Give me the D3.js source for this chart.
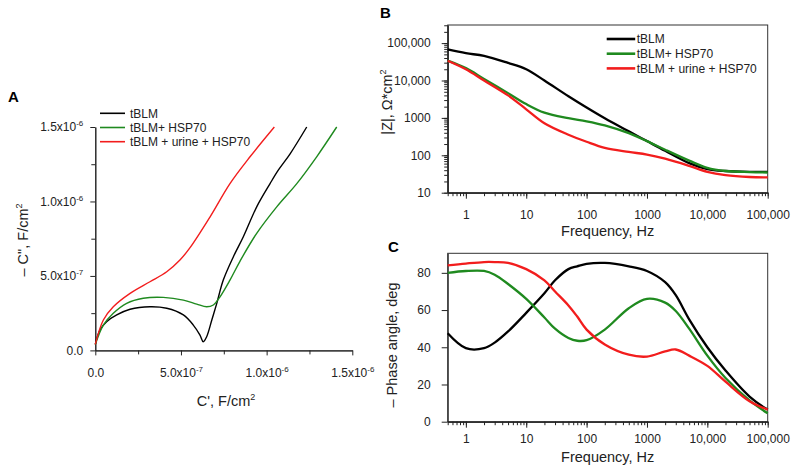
<!DOCTYPE html>
<html>
<head>
<meta charset="utf-8">
<script src="https://cdn.jsdelivr.net/npm/d3@7"></script>
<style>
body { margin: 0; background: #fff; }
svg { font-family: "Liberation Sans", Arial, sans-serif; }
.axis path, .axis line { stroke: #222; }
.axis text { font-size: 12px; fill: #222; font-family: "Liberation Sans", Arial, sans-serif; }
</style>
</head>
<body>
<script>
// series names and colours (shared by all panels)
var seriesNames = ["tBLM", "tBLM+ HSP70", "tBLM + urine + HSP70"];
var seriesColors = ["#000000", "#1f8a1f", "#f21d1d"];

// Panel A: complex capacitance plot, C' and -C'' in F/cm2
var capRe_tBLM = [0.0, 0.27e-7, 0.66e-7, 1.25e-7, 2.03e-7, 3.19e-7, 4.17e-7, 5.14e-7, 5.72e-7, 6.11e-7, 6.30e-7, 6.50e-7, 6.80e-7, 7.09e-7, 7.47e-7, 8.06e-7, 8.64e-7, 9.42e-7, 10.2e-7, 10.68e-7, 11.37e-7, 12.34e-7];
var capIm_tBLM = [0.40e-7, 1.37e-7, 1.93e-7, 2.38e-7, 2.76e-7, 2.93e-7, 2.83e-7, 2.38e-7, 1.70e-7, 1.03e-7, 0.58e-7, 0.92e-7, 2.04e-7, 3.16e-7, 4.72e-7, 6.29e-7, 7.63e-7, 9.64e-7, 11.2e-7, 12.1e-7, 13.2e-7, 15.0e-7];
var capRe_hsp = [0.0, 0.47e-7, 1.05e-7, 1.83e-7, 2.80e-7, 3.97e-7, 5.14e-7, 5.92e-7, 6.50e-7, 6.89e-7, 7.28e-7, 7.86e-7, 8.45e-7, 9.42e-7, 10.59e-7, 11.76e-7, 12.92e-7, 14.09e-7];
var capIm_hsp = [0.40e-7, 1.70e-7, 2.49e-7, 3.16e-7, 3.50e-7, 3.56e-7, 3.38e-7, 3.11e-7, 2.93e-7, 3.05e-7, 3.60e-7, 4.72e-7, 6.0e-7, 7.86e-7, 9.64e-7, 11.2e-7, 13.0e-7, 15.0e-7];
var capRe_urine = [0.0, 0.47e-7, 1.05e-7, 2.03e-7, 3.19e-7, 4.17e-7, 4.94e-7, 5.53e-7, 6.70e-7, 7.86e-7, 9.03e-7, 10.45e-7];
var capIm_urine = [0.40e-7, 2.04e-7, 2.93e-7, 3.83e-7, 4.61e-7, 5.28e-7, 6.07e-7, 6.9e-7, 8.97e-7, 11.2e-7, 13.0e-7, 15.0e-7];
var capTicks = [0, 5e-7, 1e-6, 1.5e-6];
var capMinorTicks = [2.5e-7, 7.5e-7, 1.25e-6];

// Panel B: impedance modulus |Z|, ohm*cm2
var freqB = [0.5, 1, 2, 5, 10, 20, 50, 100, 200, 500, 1000, 2000, 5000, 10000, 20000, 50000, 100000];
var zMod_tBLM = [67600, 53700, 45700, 29500, 20000, 10000, 3800, 1900, 980, 437, 240, 132, 62, 43, 38, 36, 36];
var zMod_hsp = [33900, 21400, 11000, 4600, 2340, 1380, 980, 810, 630, 390, 240, 141, 72, 46, 38, 35.5, 34.7];
var zMod_urine = [33900, 20000, 10000, 4000, 1700, 720, 355, 230, 158, 123, 105, 81, 52, 36, 29.5, 26.3, 25.7];
var zTicks = [10, 100, 1000, 10000, 100000];

// Panel C: -phase angle, deg
var freqC = [0.5, 1, 2, 3, 5, 10, 20, 30, 50, 70, 100, 200, 500, 1000, 2000, 3000, 5000, 10000, 20000, 50000, 100000];
var phase_tBLM = [47.5, 39.5, 39.5, 42.5, 48.5, 58.5, 69, 76, 82, 83.5, 84.8, 85.3, 83.5, 81, 75, 68, 55, 40, 27.5, 13.5, 6.5];
var phase_hsp = [80, 81, 81, 79, 74, 66, 56, 50, 45, 43.5, 43.8, 49.5, 61, 66, 64, 59.5, 50, 35.5, 23.5, 11.5, 4.5];
var phase_urine = [84, 85, 85.8, 85.8, 85.4, 82, 76, 70, 62.5, 56.5, 49.5, 41.5, 36, 35, 37.8, 38.8, 35.5, 30, 21.5, 11, 6.5];
var phaseTicks = [0, 20, 40, 60, 80];
var freqTicks = [1, 10, 100, 1000, 10000, 100000];

var W = 796, H = 472;

var svg = d3.select("body").append("svg")
    .attr("width", W)
    .attr("height", H);

// labels like 1.5x10^-6 with a real superscript
function sciLabel(sel) {
    sel.each(function (d) {
        var t = d3.select(this);
        t.text(null);
        if (d === 0) { t.text("0.0"); return; }
        var e = Math.floor(Math.log10(d) + 1e-9);
        var m = d / Math.pow(10, e);
        t.append("tspan").text(m.toFixed(1) + "x10");
        t.append("tspan").attr("dy", -5).attr("font-size", 8).text(String(e));
    });
}

function freqFormat(v) {
    return v >= 10000 ? d3.format(",")(v) : String(v);
}

// log minor tick values inside a domain
function logMinors(lo, hi) {
    var out = [];
    for (var p = -1; p <= 5; p++) {
        for (var k = 1; k <= 9; k++) {
            var v = k * Math.pow(10, p);
            if (v >= lo && v <= hi) out.push(v);
        }
    }
    return out;
}

// ---------- Panel A ----------
var xA = d3.scaleLinear().domain([0, 1.5e-6]).range([95.3, 352.3]);
var yA = d3.scaleLinear().domain([0, 1.5e-6]).range([350.4, 127]);

var gA = svg.append("g");

gA.append("g").attr("class", "axis")
    .attr("transform", "translate(0," + yA(0) + ")")
    .call(d3.axisBottom(xA).tickValues(capMinorTicks).tickSize(4).tickFormat("").tickSizeOuter(0));
gA.append("g").attr("class", "axis")
    .attr("transform", "translate(0," + yA(0) + ")")
    .call(d3.axisBottom(xA).tickValues(capTicks).tickSize(5).tickPadding(13).tickSizeOuter(0))
    .selectAll("text").call(sciLabel);

gA.append("g").attr("class", "axis")
    .attr("transform", "translate(" + xA(0) + ",0)")
    .call(d3.axisLeft(yA).tickValues(capMinorTicks).tickSize(4).tickFormat("").tickSizeOuter(0));
gA.append("g").attr("class", "axis")
    .attr("transform", "translate(" + xA(0) + ",0)")
    .call(d3.axisLeft(yA).tickValues(capTicks).tickSize(5).tickPadding(7).tickSizeOuter(0))
    .selectAll("text").call(sciLabel);

var lineA = d3.line()
    .x(function (d) { return xA(d[0]); })
    .y(function (d) { return yA(d[1]); })
    .curve(d3.curveCatmullRom.alpha(0.5));

var dataA = [
    d3.zip(capRe_tBLM, capIm_tBLM),
    d3.zip(capRe_hsp, capIm_hsp),
    d3.zip(capRe_urine, capIm_urine)
];

gA.selectAll(".curveA")
    .data(dataA)
    .enter()
    .append("path")
    .attr("class", "curveA")
    .attr("d", lineA)
    .attr("fill", "none")
    .attr("stroke", function (d, i) { return seriesColors[i]; })
    .attr("stroke-width", 1.4);

// legend A
var legA = gA.selectAll(".legA")
    .data(seriesNames)
    .enter()
    .append("g")
    .attr("class", "legA")
    .attr("transform", function (d, i) { return "translate(100," + (113.3 + i * 14.2) + ")"; });
legA.append("line")
    .attr("x1", 0).attr("x2", 25)
    .attr("stroke", function (d, i) { return seriesColors[i]; })
    .attr("stroke-width", 1.6);
legA.append("text")
    .attr("x", 30).attr("dy", "0.35em")
    .attr("font-size", 12).attr("fill", "#222")
    .text(function (d) { return d; });

// axis titles A
var ylabA = gA.append("text")
    .attr("transform", "translate(28,240) rotate(-90)")
    .attr("text-anchor", "middle")
    .attr("font-size", 14.5).attr("fill", "#222");
ylabA.append("tspan").text("\u2013 C\", F/cm");
ylabA.append("tspan").attr("dy", -6).attr("font-size", 9).text("2");

var xlabA = gA.append("text")
    .attr("x", 226).attr("y", 406)
    .attr("text-anchor", "middle")
    .attr("font-size", 14.5).attr("fill", "#222");
xlabA.append("tspan").text("C', F/cm");
xlabA.append("tspan").attr("dy", -6).attr("font-size", 9).text("2");

svg.append("text").attr("x", 8).attr("y", 102)
    .attr("font-size", 15).attr("font-weight", "bold").text("A");

// ---------- Panel B ----------
var xF = d3.scaleLog().domain([0.5, 100000]);
var xB = xF.copy().range([447.7, 767.7]);
var yB = d3.scaleLog().domain([10, 305000]).range([192.7, 25]);

var gB = svg.append("g");

gB.append("rect")
    .attr("x", xB.range()[0]).attr("y", yB.range()[1])
    .attr("width", xB.range()[1] - xB.range()[0])
    .attr("height", yB.range()[0] - yB.range()[1])
    .attr("fill", "none").attr("stroke", "#333").attr("stroke-width", 1);

gB.append("g").attr("class", "axis")
    .attr("transform", "translate(0," + yB.range()[0] + ")")
    .call(d3.axisBottom(xB).tickValues(logMinors(0.5, 100000)).tickSize(3.5).tickFormat("").tickSizeOuter(0));
gB.append("g").attr("class", "axis")
    .attr("transform", "translate(0," + yB.range()[0] + ")")
    .call(d3.axisBottom(xB).tickValues(freqTicks).tickSize(6).tickPadding(12).tickFormat(freqFormat).tickSizeOuter(0));
gB.append("g").attr("class", "axis")
    .attr("transform", "translate(" + xB.range()[0] + ",0)")
    .call(d3.axisLeft(yB).tickValues(logMinors(10, 305000)).tickSize(3.5).tickFormat("").tickSizeOuter(0));
gB.append("g").attr("class", "axis")
    .attr("transform", "translate(" + xB.range()[0] + ",0)")
    .call(d3.axisLeft(yB).tickValues(zTicks).tickSize(6).tickPadding(11).tickFormat(freqFormat).tickSizeOuter(0));

var dataB = [zMod_tBLM, zMod_hsp, zMod_urine];
var lineB = d3.line()
    .x(function (d, i) { return xB(freqB[i]); })
    .y(function (d) { return yB(d); })
    .curve(d3.curveCatmullRom.alpha(0.5));

gB.selectAll(".curveB")
    .data(dataB)
    .enter()
    .append("path")
    .attr("class", "curveB")
    .attr("d", lineB)
    .attr("fill", "none")
    .attr("stroke", function (d, i) { return seriesColors[i]; })
    .attr("stroke-width", 2.3);

var legB = gB.selectAll(".legB")
    .data(seriesNames)
    .enter()
    .append("g")
    .attr("class", "legB")
    .attr("transform", function (d, i) { return "translate(606.7," + (39 + i * 14.7) + ")"; });
legB.append("line")
    .attr("x1", 0).attr("x2", 28.5)
    .attr("stroke", function (d, i) { return seriesColors[i]; })
    .attr("stroke-width", 2.6);
legB.append("text")
    .attr("x", 30).attr("dy", "0.35em")
    .attr("font-size", 12).attr("fill", "#222")
    .text(function (d) { return d; });

var ylabB = gB.append("text")
    .attr("transform", "translate(392,102) rotate(-90)")
    .attr("text-anchor", "middle")
    .attr("font-size", 14.5).attr("fill", "#222");
ylabB.append("tspan").text("|Z|, \u03A9*cm");
ylabB.append("tspan").attr("dy", -6).attr("font-size", 9).text("2");

gB.append("text")
    .attr("x", 607.7).attr("y", 236)
    .attr("text-anchor", "middle")
    .attr("font-size", 14.5).attr("fill", "#222")
    .text("Frequency, Hz");

svg.append("text").attr("x", 380).attr("y", 18)
    .attr("font-size", 15).attr("font-weight", "bold").text("B");

// ---------- Panel C ----------
var xC = xF.copy().range([447.7, 767.7]);
var yC = d3.scaleLinear().domain([0, 90.5]).range([421.7, 253.3]);

var gC = svg.append("g");

gC.append("rect")
    .attr("x", xC.range()[0]).attr("y", yC.range()[1])
    .attr("width", xC.range()[1] - xC.range()[0])
    .attr("height", yC.range()[0] - yC.range()[1])
    .attr("fill", "none").attr("stroke", "#333").attr("stroke-width", 1);

gC.append("g").attr("class", "axis")
    .attr("transform", "translate(0," + yC.range()[0] + ")")
    .call(d3.axisBottom(xC).tickValues(logMinors(0.5, 100000)).tickSize(3.5).tickFormat("").tickSizeOuter(0));
gC.append("g").attr("class", "axis")
    .attr("transform", "translate(0," + yC.range()[0] + ")")
    .call(d3.axisBottom(xC).tickValues(freqTicks).tickSize(6).tickPadding(7).tickFormat(freqFormat).tickSizeOuter(0));
gC.append("g").attr("class", "axis")
    .attr("transform", "translate(" + xC.range()[0] + ",0)")
    .call(d3.axisLeft(yC).tickValues(phaseTicks).tickSize(6).tickPadding(11).tickSizeOuter(0));

var dataC = [phase_tBLM, phase_hsp, phase_urine];
var lineC = d3.line()
    .x(function (d, i) { return xC(freqC[i]); })
    .y(function (d) { return yC(d); })
    .curve(d3.curveCatmullRom.alpha(0.5));

gC.selectAll(".curveC")
    .data(dataC)
    .enter()
    .append("path")
    .attr("class", "curveC")
    .attr("d", lineC)
    .attr("fill", "none")
    .attr("stroke", function (d, i) { return seriesColors[i]; })
    .attr("stroke-width", 2.3);

gC.append("text")
    .attr("transform", "translate(397,345) rotate(-90)")
    .attr("text-anchor", "middle")
    .attr("font-size", 14.5).attr("fill", "#222")
    .text("\u2013 Phase angle, deg");

gC.append("text")
    .attr("x", 607.7).attr("y", 462)
    .attr("text-anchor", "middle")
    .attr("font-size", 14.5).attr("fill", "#222")
    .text("Frequency, Hz");

svg.append("text").attr("x", 388).attr("y", 252)
    .attr("font-size", 15).attr("font-weight", "bold").text("C");
</script>
</body>
</html>
